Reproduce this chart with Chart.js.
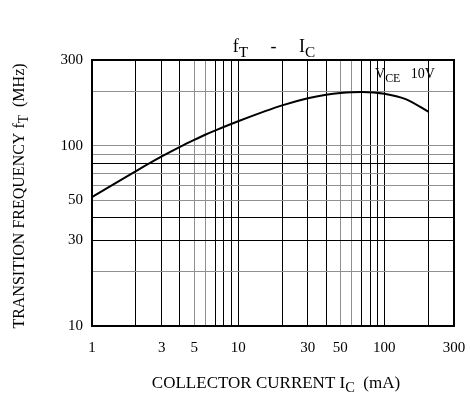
<!DOCTYPE html>
<html>
<head>
<meta charset="utf-8">
<script src="https://cdn.jsdelivr.net/npm/chart.js@4.4.1/dist/chart.umd.min.js"></script>
<style>
  html, body { margin: 0; padding: 0; background: #fff; }
  #wrap { position: relative; width: 470px; height: 396px; }
</style>
</head>
<body>
<div id="wrap"><canvas id="ftChart" width="470" height="396"></canvas></div>
<script>
// Collector current (mA) and transition frequency (MHz)
const collectorCurrent = [1, 2, 3, 4, 5, 6, 7, 10, 15, 20, 30, 40, 50, 60, 70, 100, 140, 200];
const transitionFreq = [52, 72.5, 87.4, 98.9, 108, 115.7, 122, 137, 155, 168, 184, 192.5, 197, 198.8, 199, 195, 182, 155];

// grid lines and which of them get a label
const xGridValues = [1, 2, 3, 4, 5, 6, 7, 8, 9, 10, 20, 30, 40, 50, 60, 70, 80, 90, 100, 200, 300];
const xTickLabels = [1, 3, 5, 10, 30, 50, 100, 300];
const xGrayLines = [5, 6, 50, 60];
const yGridValues = [10, 20, 30, 40, 50, 60, 70, 80, 90, 100, 200, 300];
const yTickLabels = [10, 30, 50, 100, 300];
const yGrayLines = [20, 50, 60, 70, 90, 100, 200];

const serif = "'Liberation Serif', 'Times New Roman', serif";

// draws a run of text pieces, some of them as subscripts
function drawParts(ctx, parts, x, y, size) {
    let total = 0;
    parts.forEach(p => {
        ctx.font = (p[1] ? size * 0.85 : size) + 'px ' + serif;
        total += ctx.measureText(p[0]).width;
    });
    let cx = x - total / 2;
    ctx.textAlign = 'left';
    ctx.textBaseline = 'alphabetic';
    parts.forEach(p => {
        ctx.font = (p[1] ? size * 0.85 : size) + 'px ' + serif;
        ctx.fillText(p[0], cx, p[1] ? y + size * 0.25 : y);
        cx += ctx.measureText(p[0]).width;
    });
}

const labelsPlugin = {
    id: 'labelsPlugin',
    afterDraw(chart) {
        const ctx = chart.ctx;
        const area = chart.chartArea;
        ctx.save();
        ctx.fillStyle = '#000';

        // frame
        ctx.strokeStyle = '#000';
        ctx.lineWidth = 2;
        ctx.strokeRect(area.left, area.top, area.right - area.left, area.bottom - area.top);

        // title
        drawParts(ctx, [['f', false], ['T', true], ['     -     ', false], ['I', false], ['C', true]], 274, 52, 18);

        // x axis title
        drawParts(ctx, [['COLLECTOR CURRENT I', false], ['C', true], ['  (mA)', false]], 276, 388, 17);

        // y axis title
        ctx.save();
        ctx.translate(24, 196);
        ctx.rotate(-Math.PI / 2);
        drawParts(ctx, [['TRANSITION FREQUENCY f', false], ['T', true], ['  (MHz)', false]], 0, 0, 16);
        ctx.restore();

        // condition note
        drawParts(ctx, [['V', false], ['CE', true], ['   10V', false]], 405, 78, 14);
        ctx.restore();
    }
};

function gridColour(ctx, grayList) {
    if (!ctx.tick) return '#000';
    return grayList.includes(ctx.tick.value) ? '#8f8f8f' : '#000';
}

const ctx = document.getElementById('ftChart').getContext('2d');
const ftChart = new Chart(ctx, {
    type: 'line',
    data: {
        labels: collectorCurrent,
        datasets: [{
            data: collectorCurrent.map((c, i) => ({ x: c, y: transitionFreq[i] })),
            borderColor: '#000',
            borderWidth: 2,
            pointRadius: 0,
            fill: false,
            cubicInterpolationMode: 'monotone'
        }]
    },
    options: {
        responsive: false,
        animation: false,
        layout: { padding: { top: 60, right: 16, left: 0, bottom: 0 } },
        plugins: {
            legend: { display: false },
            tooltip: { enabled: false }
        },
        scales: {
            x: {
                type: 'logarithmic',
                min: 1,
                max: 300,
                afterBuildTicks: scale => {
                    scale.ticks = xGridValues.map(v => ({ value: v }));
                },
                afterFit: scale => {
                    scale.height = 70;
                    scale.paddingLeft = 0;
                    scale.paddingRight = 0;
                },
                ticks: {
                    autoSkip: false,
                    maxRotation: 0,
                    padding: 13,
                    color: '#000',
                    font: { family: serif, size: 15 },
                    callback: v => xTickLabels.includes(v) ? String(v) : ''
                },
                grid: {
                    color: c => gridColour(c, xGrayLines),
                    lineWidth: 1,
                    drawTicks: false
                },
                border: { display: false }
            },
            y: {
                type: 'logarithmic',
                min: 10,
                max: 300,
                afterBuildTicks: scale => {
                    scale.ticks = yGridValues.map(v => ({ value: v }));
                },
                afterFit: scale => {
                    scale.width = 92;
                    scale.paddingTop = 0;
                    scale.paddingBottom = 0;
                },
                ticks: {
                    autoSkip: false,
                    padding: 9,
                    color: '#000',
                    font: { family: serif, size: 15 },
                    callback: v => yTickLabels.includes(v) ? String(v) : ''
                },
                grid: {
                    color: c => gridColour(c, yGrayLines),
                    lineWidth: 1,
                    drawTicks: false
                },
                border: { display: false }
            }
        }
    },
    plugins: [labelsPlugin]
});
</script>
</body>
</html>
